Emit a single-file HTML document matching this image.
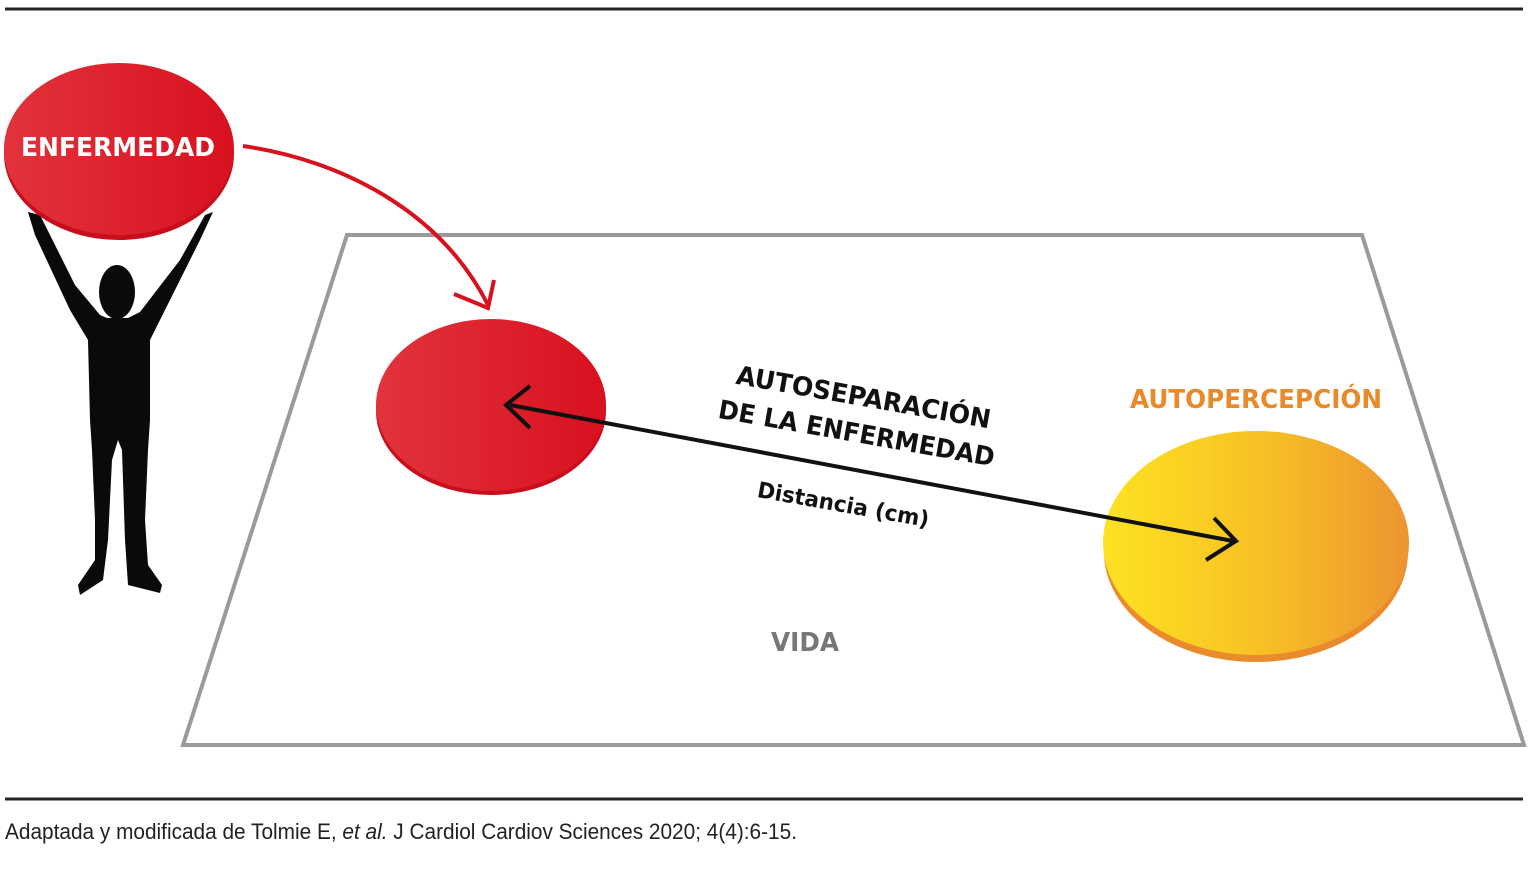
<!DOCTYPE html>
<html><head><meta charset="utf-8"><style>
html,body{margin:0;padding:0;background:#fff;}
svg{display:block;}
</style></head><body>
<svg width="1540" height="874" viewBox="0 0 1540 874" xmlns="http://www.w3.org/2000/svg">
<defs>
<linearGradient id="red" x1="0" x2="1" y1="0" y2="0">
<stop offset="0" stop-color="#e2333c"/><stop offset="1" stop-color="#d8111f"/></linearGradient>
<linearGradient id="yel" x1="0" x2="1" y1="0" y2="0">
<stop offset="0" stop-color="#fde221"/><stop offset="0.5" stop-color="#f8c225"/><stop offset="1" stop-color="#ec9530"/></linearGradient>
</defs>
<rect width="1540" height="874" fill="#fff"/>
<line x1="5" y1="9" x2="1523" y2="9" stroke="#222" stroke-width="3"/>
<line x1="5" y1="799" x2="1523" y2="799" stroke="#222" stroke-width="3"/>
<text x="5" y="839" font-family="'Liberation Sans Narrow','Liberation Sans',sans-serif" font-size="22" fill="#222" textLength="792" lengthAdjust="spacingAndGlyphs">Adaptada y modificada de Tolmie E, <tspan font-style="italic">et al.</tspan> J Cardiol Cardiov Sciences 2020; 4(4):6-15.</text>

<polygon points="347,235 1362,235 1524,745 183,745" fill="none" stroke="#9a9a9c" stroke-width="4"/>

<path d="M28,212 L40,215 L75,285 L100,315 L107,318 L128,318 L140,312 L180,260 L205,215 L213,212 L200,240 L165,310 L150,340 L150,420 L148,450 L145,520 L148,565 L162,585 L160,593 L128,585 L125,540 L122,450 L118,440 L112,460 L108,540 L103,580 L80,595 L78,585 L95,560 L95,520 L92,450 L90,420 L88,340 L70,310 L35,235 Z" fill="#0a0a0a"/>
<ellipse cx="117" cy="292" rx="18" ry="27" fill="#0a0a0a"/>

<ellipse cx="119" cy="154" rx="115" ry="86" fill="#c80e1c"/>
<ellipse cx="119" cy="149" rx="115" ry="86" fill="url(#red)"/>
<text x="118" y="156" text-anchor="middle" font-family="'DejaVu Sans','Liberation Sans',sans-serif" font-weight="bold" font-size="26" fill="#fff" textLength="194" lengthAdjust="spacingAndGlyphs">ENFERMEDAD</text>

<path d="M243,146 C340,160 440,210 488,305" fill="none" stroke="#d8111f" stroke-width="4"/>
<polyline points="454,294 488,308 494,280" fill="none" stroke="#d8111f" stroke-width="4"/>

<ellipse cx="491" cy="411" rx="115" ry="84" fill="#c80e1c"/>
<ellipse cx="491" cy="405" rx="115" ry="86" fill="url(#red)"/>

<ellipse cx="1256" cy="552" rx="152" ry="110" fill="#e98b2c"/>
<ellipse cx="1256" cy="543" rx="153" ry="112" fill="url(#yel)"/>

<line x1="510" y1="405" x2="1233" y2="541" stroke="#111" stroke-width="4"/>
<polyline points="530,386 506,405 530,428" fill="none" stroke="#111" stroke-width="4"/>
<polyline points="1214,518 1236,541 1206,560" fill="none" stroke="#111" stroke-width="4"/>

<g font-family="'DejaVu Sans','Liberation Sans',sans-serif" font-weight="bold" fill="#111">
<text transform="translate(862,406) rotate(10)" text-anchor="middle" font-size="26" textLength="258" lengthAdjust="spacingAndGlyphs">AUTOSEPARACIÓN</text>
<text transform="translate(855,442) rotate(10)" text-anchor="middle" font-size="26" textLength="280" lengthAdjust="spacingAndGlyphs">DE LA ENFERMEDAD</text>
<text transform="translate(842,512) rotate(10)" text-anchor="middle" font-size="22" textLength="174" lengthAdjust="spacingAndGlyphs">Distancia (cm)</text>
</g>
<text x="1256" y="408" text-anchor="middle" font-family="'DejaVu Sans','Liberation Sans',sans-serif" font-weight="bold" font-size="26" fill="#e88a2a" textLength="252" lengthAdjust="spacingAndGlyphs">AUTOPERCEPCIÓN</text>
<text x="805" y="651" text-anchor="middle" font-family="'DejaVu Sans','Liberation Sans',sans-serif" font-weight="bold" font-size="26" fill="#77777a" textLength="68" lengthAdjust="spacingAndGlyphs">VIDA</text>
</svg>
</body></html>
